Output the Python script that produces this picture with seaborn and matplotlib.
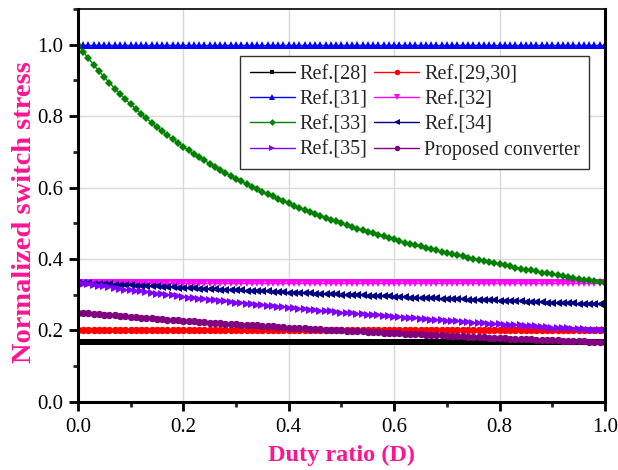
import numpy as np
import matplotlib
matplotlib.use("Agg")
import matplotlib.pyplot as plt
from matplotlib.ticker import MultipleLocator
import seaborn as sns

# duty ratio D from 0 to 1, one point per 0.01
duty = np.linspace(0, 1, 101)

# constant curves
ref28 = [0.1667] * 101
ref29_30 = [0.2] * 101
ref31 = [1.0] * 101
ref32 = [0.3333] * 101

ref33 = [1.000, 0.980, 0.962, 0.943, 0.926, 0.909, 0.893, 0.877, 0.862, 0.847,
         0.833, 0.820, 0.806, 0.794, 0.781, 0.769, 0.758, 0.746, 0.735, 0.725,
         0.714, 0.704, 0.694, 0.685, 0.676, 0.667, 0.658, 0.649, 0.641, 0.633,
         0.625, 0.617, 0.610, 0.602, 0.595, 0.588, 0.581, 0.575, 0.568, 0.562,
         0.556, 0.549, 0.543, 0.538, 0.532, 0.526, 0.521, 0.515, 0.510, 0.505,
         0.500, 0.495, 0.490, 0.485, 0.481, 0.476, 0.472, 0.467, 0.463, 0.459,
         0.455, 0.450, 0.446, 0.442, 0.439, 0.435, 0.431, 0.427, 0.424, 0.420,
         0.417, 0.413, 0.410, 0.407, 0.403, 0.400, 0.397, 0.394, 0.391, 0.388,
         0.385, 0.382, 0.379, 0.376, 0.373, 0.370, 0.368, 0.365, 0.362, 0.360,
         0.357, 0.355, 0.352, 0.350, 0.347, 0.345, 0.342, 0.340, 0.338, 0.336,
         0.333]

ref34 = [0.333, 0.333, 0.332, 0.331, 0.330, 0.330, 0.329, 0.328, 0.328, 0.327,
         0.326, 0.325, 0.325, 0.324, 0.323, 0.323, 0.322, 0.321, 0.321, 0.320,
         0.319, 0.318, 0.318, 0.317, 0.316, 0.316, 0.315, 0.314, 0.314, 0.313,
         0.313, 0.312, 0.311, 0.311, 0.310, 0.309, 0.309, 0.308, 0.307, 0.307,
         0.306, 0.306, 0.305, 0.304, 0.304, 0.303, 0.302, 0.302, 0.301, 0.301,
         0.300, 0.299, 0.299, 0.298, 0.298, 0.297, 0.296, 0.296, 0.295, 0.295,
         0.294, 0.294, 0.293, 0.292, 0.292, 0.291, 0.291, 0.290, 0.290, 0.289,
         0.288, 0.288, 0.287, 0.287, 0.286, 0.286, 0.285, 0.285, 0.284, 0.284,
         0.283, 0.282, 0.282, 0.281, 0.281, 0.280, 0.280, 0.279, 0.279, 0.278,
         0.278, 0.277, 0.277, 0.276, 0.276, 0.275, 0.275, 0.274, 0.274, 0.273,
         0.273]

ref35 = [0.333, 0.331, 0.329, 0.327, 0.325, 0.323, 0.321, 0.318, 0.316, 0.314,
         0.313, 0.311, 0.309, 0.307, 0.305, 0.303, 0.301, 0.299, 0.298, 0.296,
         0.294, 0.292, 0.291, 0.289, 0.287, 0.286, 0.284, 0.282, 0.281, 0.279,
         0.278, 0.276, 0.275, 0.273, 0.272, 0.270, 0.269, 0.267, 0.266, 0.265,
         0.263, 0.262, 0.260, 0.259, 0.258, 0.256, 0.255, 0.254, 0.253, 0.251,
         0.250, 0.249, 0.248, 0.246, 0.245, 0.244, 0.243, 0.242, 0.240, 0.239,
         0.238, 0.237, 0.236, 0.235, 0.234, 0.233, 0.231, 0.230, 0.229, 0.228,
         0.227, 0.226, 0.225, 0.224, 0.223, 0.222, 0.221, 0.220, 0.219, 0.218,
         0.217, 0.216, 0.216, 0.215, 0.214, 0.213, 0.212, 0.211, 0.210, 0.209,
         0.208, 0.207, 0.207, 0.206, 0.205, 0.204, 0.203, 0.202, 0.202, 0.201,
         0.200]

proposed = [0.250, 0.249, 0.248, 0.246, 0.245, 0.244, 0.243, 0.242, 0.240, 0.239,
            0.238, 0.237, 0.236, 0.235, 0.234, 0.233, 0.231, 0.230, 0.229, 0.228,
            0.227, 0.226, 0.225, 0.224, 0.223, 0.222, 0.221, 0.220, 0.219, 0.218,
            0.217, 0.216, 0.216, 0.215, 0.214, 0.213, 0.212, 0.211, 0.210, 0.209,
            0.208, 0.207, 0.207, 0.206, 0.205, 0.204, 0.203, 0.202, 0.202, 0.201,
            0.200, 0.199, 0.198, 0.198, 0.197, 0.196, 0.195, 0.195, 0.194, 0.193,
            0.192, 0.192, 0.191, 0.190, 0.189, 0.189, 0.188, 0.187, 0.187, 0.186,
            0.185, 0.185, 0.184, 0.183, 0.182, 0.182, 0.181, 0.181, 0.180, 0.179,
            0.179, 0.178, 0.177, 0.177, 0.176, 0.175, 0.175, 0.174, 0.174, 0.173,
            0.172, 0.172, 0.171, 0.171, 0.170, 0.169, 0.169, 0.168, 0.168, 0.167,
            0.167]

labels = ["Ref.[28]", "Ref.[29,30]", "Ref.[31]", "Ref.[32]",
          "Ref.[33]", "Ref.[34]", "Ref.[35]", "Proposed converter"]
series = [ref28, ref29_30, ref31, ref32, ref33, ref34, ref35, proposed]
colors = ["black", "#ff0000", "#0000ff", "#ff00ff",
          "#008000", "#000080", "#8000ff", "#800080"]
markers = ["s", "o", "^", "v", "D", "<", ">", "o"]
msizes = [4.8, 5.3, 6, 6, 4.5, 6, 6, 5.3]
tick_vals = [0.0, 0.2, 0.4, 0.6, 0.8, 1.0]
tick_text = ["0.0", "0.2", "0.4", "0.6", "0.8", "1.0"]

sns.set_style("ticks")
plt.rcParams["font.family"] = ["Liberation Serif", "DejaVu Serif"]

fig = plt.figure(figsize=(6.18, 4.70), dpi=100)
ax = fig.add_axes([0.126, 0.145, 0.853, 0.836])

# draw every curve
for vals, lab, c, m, ms in zip(series, labels, colors, markers, msizes):
    sns.lineplot(x=duty, y=vals, color=c, marker=m, markersize=ms,
                 markeredgewidth=0, linewidth=1, label=lab, ax=ax)

ax.set_xlim(0, 1.0)
ax.set_ylim(0, 1.1)
ax.set_xticks(tick_vals)
ax.set_yticks(tick_vals)
ax.set_xticklabels(tick_text)
ax.set_yticklabels(tick_text)
ax.xaxis.set_minor_locator(MultipleLocator(0.1))
ax.yaxis.set_minor_locator(MultipleLocator(0.1))
ax.grid(which="major", color="#d9d9d9", linewidth=1)
ax.set_axisbelow(True)

ax.tick_params(which="major", direction="out", length=6.5, width=2, labelsize=15,
               colors="black")
ax.tick_params(axis="x", which="major", pad=5)
ax.tick_params(axis="y", which="major", pad=4)
ax.tick_params(which="minor", direction="out", length=3.5, width=2)
for side in ["left", "bottom", "right"]:
    ax.spines[side].set_linewidth(2.2)
    ax.spines[side].set_color("black")
ax.spines["top"].set_linewidth(1.2)
ax.spines["top"].set_color("black")

pink = "#ff1493"
ax.set_xlabel("Duty ratio (D)", fontsize=17.5, fontweight="bold", color=pink, labelpad=6)
ax.set_ylabel("Normalized switch stress", fontsize=20.5, fontweight="bold", color=pink)
ax.yaxis.set_label_coords(-0.077, 0.482)

# legend filled row by row like the original
handles, labs = ax.get_legend_handles_labels()
order = [0, 2, 4, 6, 1, 3, 5, 7]
leg = ax.legend([handles[i] for i in order], [labs[i] for i in order],
                loc="upper right", bbox_to_anchor=(0.97, 0.88), ncol=2,
                fontsize=14.5, frameon=True, fancybox=False, framealpha=1,
                edgecolor="#333333", borderaxespad=0, handlelength=2.25,
                handletextpad=0.25, columnspacing=0.3, labelspacing=0.3,
                borderpad=0.45, numpoints=1, markerscale=0.75)
leg.get_frame().set_linewidth(1)

fig.savefig("out.png", dpi=100)
